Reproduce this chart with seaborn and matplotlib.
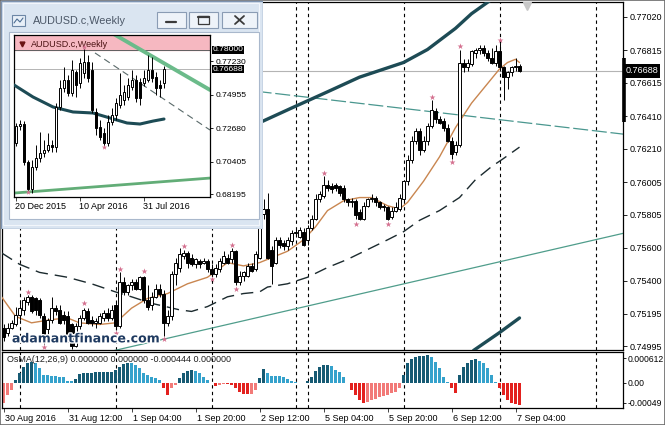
import numpy as np
import matplotlib
matplotlib.use("Agg")
import matplotlib.pyplot as plt
from matplotlib.patches import Rectangle
from matplotlib.transforms import blended_transform_factory as blend
import matplotlib.patheffects as pe
import seaborn as sns

# ---- AUDUSD.c H1 bars, index 0 = 30 Aug 2016 20:00 ----
opens = [0.7511, 0.7508, 0.7511, 0.7513, 0.7519, 0.7522, 0.7527, 0.7530, 0.7529, 0.7528,
         0.7518, 0.7510, 0.7516, 0.7523, 0.7522, 0.7519, 0.7518, 0.7513, 0.7500, 0.7512,
         0.7517, 0.7521, 0.7516, 0.7514, 0.7514, 0.7517, 0.7520, 0.7517, 0.7525, 0.7512,
         0.7539, 0.7533, 0.7537, 0.7539, 0.7535, 0.7542, 0.7528, 0.7525, 0.7530, 0.7535,
         0.7532, 0.7514, 0.7518, 0.7544, 0.7548, 0.7555, 0.7557, 0.7554, 0.7550, 0.7552,
         0.7551, 0.7552, 0.7547, 0.7544, 0.7547, 0.7551, 0.7554, 0.7553, 0.7558, 0.7539,
         0.7543, 0.7543, 0.7549, 0.7547, 0.7554, 0.7581, 0.7584, 0.7559, 0.7551, 0.7565,
         0.7563, 0.7561, 0.7564, 0.7569, 0.7567, 0.7570, 0.7565, 0.7572, 0.7578, 0.7590,
         0.7592, 0.7599, 0.7598, 0.7599, 0.7598, 0.7597, 0.7590, 0.7588, 0.7589, 0.7582,
         0.7578, 0.7586, 0.7590, 0.7591, 0.7588, 0.7586, 0.7585, 0.7579, 0.7583, 0.7584,
         0.7590, 0.7601, 0.7614, 0.7626, 0.7632, 0.7620, 0.7626, 0.7635, 0.7644, 0.7639,
         0.7638, 0.7634, 0.7626, 0.7619, 0.7623, 0.7674, 0.7671, 0.7673, 0.7680, 0.7682,
         0.7683, 0.7680, 0.7677, 0.7674, 0.7681, 0.7671, 0.7665, 0.7668, 0.7671, 0.7672]
highs = [0.7513, 0.7514, 0.7516, 0.7524, 0.7528, 0.7530, 0.7531, 0.7531, 0.7530, 0.7529,
         0.7520, 0.7517, 0.7530, 0.7525, 0.7525, 0.7521, 0.7521, 0.7514, 0.7514, 0.7519,
         0.7523, 0.7523, 0.7518, 0.7517, 0.7520, 0.7522, 0.7523, 0.7525, 0.7527, 0.7545,
         0.7542, 0.7538, 0.7541, 0.7541, 0.7543, 0.7543, 0.7537, 0.7533, 0.7538, 0.7538,
         0.7534, 0.7522, 0.7546, 0.7554, 0.7560, 0.7559, 0.7558, 0.7556, 0.7554, 0.7553,
         0.7554, 0.7553, 0.7550, 0.7550, 0.7554, 0.7558, 0.7556, 0.7560, 0.7559, 0.7546,
         0.7546, 0.7551, 0.7551, 0.7558, 0.7596, 0.7590, 0.7594, 0.7561, 0.7567, 0.7567,
         0.7565, 0.7567, 0.7571, 0.7572, 0.7573, 0.7572, 0.7574, 0.7580, 0.7593, 0.7595,
         0.7604, 0.7602, 0.7600, 0.7600, 0.7599, 0.7599, 0.7591, 0.7591, 0.7590, 0.7584,
         0.7588, 0.7591, 0.7593, 0.7592, 0.7589, 0.7587, 0.7586, 0.7585, 0.7588, 0.7593,
         0.7602, 0.7617, 0.7629, 0.7634, 0.7634, 0.7629, 0.7637, 0.7651, 0.7646, 0.7641,
         0.7640, 0.7636, 0.7628, 0.7626, 0.7682, 0.7676, 0.7676, 0.7682, 0.7683, 0.7685,
         0.7685, 0.7682, 0.7683, 0.7685, 0.7686, 0.7672, 0.7669, 0.7672, 0.7677, 0.7673]
lows = [0.7503, 0.7506, 0.7510, 0.7512, 0.7516, 0.7519, 0.7525, 0.7520, 0.7519, 0.7517,
        0.7501, 0.7507, 0.7514, 0.7519, 0.7513, 0.7513, 0.7502, 0.7498, 0.7499, 0.7510,
        0.7516, 0.7513, 0.7512, 0.7511, 0.7513, 0.7515, 0.7515, 0.7516, 0.7510, 0.7511,
        0.7531, 0.7531, 0.7534, 0.7534, 0.7534, 0.7526, 0.7522, 0.7522, 0.7529, 0.7530,
        0.7506, 0.7512, 0.7516, 0.7537, 0.7545, 0.7553, 0.7548, 0.7549, 0.7548, 0.7548,
        0.7550, 0.7545, 0.7543, 0.7542, 0.7545, 0.7550, 0.7550, 0.7551, 0.7537, 0.7537,
        0.7540, 0.7542, 0.7545, 0.7546, 0.7553, 0.7578, 0.7553, 0.7538, 0.7550, 0.7560,
        0.7559, 0.7559, 0.7562, 0.7567, 0.7566, 0.7561, 0.7562, 0.7571, 0.7577, 0.7588,
        0.7591, 0.7595, 0.7594, 0.7595, 0.7592, 0.7588, 0.7586, 0.7585, 0.7578, 0.7577,
        0.7577, 0.7585, 0.7588, 0.7586, 0.7584, 0.7583, 0.7577, 0.7578, 0.7582, 0.7583,
        0.7589, 0.7599, 0.7612, 0.7624, 0.7617, 0.7619, 0.7623, 0.7634, 0.7637, 0.7636,
        0.7632, 0.7625, 0.7615, 0.7617, 0.7622, 0.7668, 0.7669, 0.7672, 0.7677, 0.7679,
        0.7678, 0.7675, 0.7673, 0.7672, 0.7669, 0.7651, 0.7658, 0.7666, 0.7669, 0.7668]
closes = [0.7505, 0.7511, 0.7514, 0.7519, 0.7523, 0.7528, 0.7530, 0.7521, 0.7522, 0.7519,
          0.7502, 0.7516, 0.7523, 0.7521, 0.7514, 0.7516, 0.7505, 0.7500, 0.7512, 0.7517,
          0.7522, 0.7514, 0.7514, 0.7515, 0.7518, 0.7520, 0.7517, 0.7522, 0.7512, 0.7539,
          0.7533, 0.7537, 0.7539, 0.7535, 0.7542, 0.7528, 0.7524, 0.7530, 0.7535, 0.7532,
          0.7514, 0.7518, 0.7544, 0.7551, 0.7556, 0.7557, 0.7551, 0.7550, 0.7553, 0.7550,
          0.7552, 0.7547, 0.7544, 0.7548, 0.7552, 0.7555, 0.7551, 0.7558, 0.7539, 0.7543,
          0.7545, 0.7549, 0.7546, 0.7556, 0.7582, 0.7584, 0.7554, 0.7549, 0.7565, 0.7562,
          0.7561, 0.7565, 0.7569, 0.7570, 0.7571, 0.7562, 0.7572, 0.7578, 0.7590, 0.7593,
          0.7599, 0.7597, 0.7596, 0.7597, 0.7594, 0.7590, 0.7588, 0.7589, 0.7580, 0.7578,
          0.7586, 0.7590, 0.7591, 0.7588, 0.7585, 0.7585, 0.7578, 0.7583, 0.7585, 0.7591,
          0.7601, 0.7614, 0.7626, 0.7632, 0.7620, 0.7626, 0.7635, 0.7645, 0.7639, 0.7637,
          0.7634, 0.7626, 0.7618, 0.7623, 0.7674, 0.7671, 0.7674, 0.7681, 0.7682, 0.7683,
          0.7680, 0.7677, 0.7674, 0.7681, 0.7671, 0.7665, 0.7668, 0.7671, 0.7672, 0.76688]

# fractal markers
frac_up_idx = [6, 20, 29, 35, 45, 57, 80, 107, 114, 124]
frac_up_val = [0.7533, 0.7526, 0.7547, 0.7546, 0.7561, 0.7562, 0.7606, 0.7653, 0.7684, 0.7688]
frac_dn_idx = [10, 28, 40, 52, 58, 88, 96, 112]
frac_dn_val = [0.7499, 0.7508, 0.7504, 0.7541, 0.7535, 0.7575, 0.7575, 0.7613]

# moving averages / bands
fast_ma_idx = [-0.5, 3, 7, 12, 16, 19, 24, 28, 32, 36, 41, 46, 51, 56, 60, 64, 67, 71, 75, 78,
               81, 85, 89, 92, 96, 99, 101, 105, 109, 113, 117, 121, 124, 126, 128, 129]
fast_ma_val = [0.7530, 0.7518, 0.7514, 0.7516, 0.7517, 0.7514, 0.7513, 0.7514, 0.7523, 0.7529,
               0.7532, 0.7538, 0.7542, 0.7551, 0.7549, 0.7551, 0.7554, 0.7558, 0.7565, 0.7573,
               0.7583, 0.7589, 0.7591, 0.7591, 0.7586, 0.7584, 0.7588, 0.7601, 0.7616, 0.7634,
               0.7649, 0.7661, 0.7670, 0.7674, 0.7676, 0.7674]
slow_ma_idx = [-0.5, 4, 9, 16, 22, 28, 32, 37, 44, 47, 51, 56, 60, 64, 66, 71, 76, 81, 86, 91,
               96, 100, 104, 109, 114, 118, 122, 125, 129]
slow_ma_val = [0.7557, 0.7550, 0.7545, 0.7542, 0.7538, 0.7533, 0.7530, 0.7526, 0.7522, 0.7521,
               0.7524, 0.7530, 0.7532, 0.7533, 0.7536, 0.7538, 0.7542, 0.7548, 0.7553, 0.7559,
               0.7565, 0.7570, 0.7577, 0.7583, 0.7591, 0.7602, 0.7610, 0.7615, 0.7622]
band_upper_idx = [58, 64, 72, 81, 89, 100, 106, 113, 117, 121, 125]
band_upper_val = [0.7632, 0.7637, 0.7646, 0.7656, 0.7665, 0.7674, 0.7682, 0.7695, 0.7704, 0.7711, 0.7718]
band_lower_idx = [117.5, 124, 129]
band_lower_val = [0.7497, 0.7508, 0.7517]
trend_up_idx = [27.75, 154.9]
trend_up_val = [0.7497, 0.7569]
trend_dn_idx = [40, 154.9]
trend_dn_val = [0.7663, 0.7630]
last_price = 0.76688

# OsMA(12,26,9)
osma = [-0.00049, -0.00029, -0.00017, 0.00007, 0.00025, 0.00039, 0.00049, 0.00051, 0.00050, 0.00037,
        0.00020, 0.00019, 0.00018, 0.00017, 0.00015, 0.00014, 0.00006, 0.00005, 0.00010, 0.00022,
        0.00024, 0.00025, 0.00025, 0.00026, 0.00026, 0.00026, 0.00027, 0.00027, 0.00032, 0.00040,
        0.00046, 0.00049, 0.00048, 0.00044, 0.00036, 0.00024, 0.00020, 0.00015, 0.00012, 0.00007,
        -0.00012, -0.00029, -0.00012, -0.00004, 0.00012, 0.00024, 0.00030, 0.00032, 0.00030, 0.00024,
        0.00015, 0.00007, 0.00001, -0.00007, -0.00005, -0.00002, -0.00003, -0.00005, -0.00012, -0.00022,
        -0.00027, -0.00028, -0.00027, -0.00017, 0.00012, 0.00034, 0.00024, 0.00018, 0.00017, 0.00016,
        0.00014, 0.00011, 0.00006, 0.00003, 0.00001, -0.00001, 0.00006, 0.00015, 0.00029, 0.00039,
        0.00043, 0.00045, 0.00042, 0.00032, 0.00027, 0.00015, 0.00001, -0.00017, -0.00029, -0.00042,
        -0.00049, -0.00047, -0.00042, -0.00040, -0.00035, -0.00032, -0.00029, -0.00025, -0.00021, -0.00013,
        0.00020, 0.00048, 0.00060, 0.00064, 0.00066, 0.00067, 0.00068, 0.00064, 0.00052, 0.00037,
        0.00015, 0.00003, -0.00012, -0.00025, 0.00020, 0.00039, 0.00049, 0.00056, 0.00058, 0.00054,
        0.00048, 0.00037, 0.00020, 0.00003, -0.00012, -0.00029, -0.00042, -0.00049, -0.00051, -0.00053]

separators = [4, 28, 52, 73, 76, 100, 124, 148]
date_ticks = [0, 16, 32, 48, 64, 80, 96, 112, 128]
date_labels = ["30 Aug 2016", "31 Aug 12:00", "1 Sep 04:00", "1 Sep 20:00", "2 Sep 12:00",
               "5 Sep 04:00", "5 Sep 20:00", "6 Sep 12:00", "7 Sep 04:00"]
price_levels = [0.77020, 0.76815, 0.76615, 0.76410, 0.76210, 0.76005,
                0.75805, 0.75600, 0.75400, 0.75195, 0.74995]
osma_levels = [0.000612, 0.0, -0.00049]
osma_labels = ["0.000612", "0.00", "-0.00049"]

# ---- weekly inset, index 0 = 20 Dec 2015 ----
wk_open = [0.7167, 0.7282, 0.7296, 0.7037, 0.6853, 0.7003, 0.7065, 0.7099, 0.7119, 0.7153,
           0.7139, 0.7412, 0.7541, 0.7596, 0.7507, 0.7650, 0.7575, 0.7643, 0.7718, 0.7664,
           0.7378, 0.7276, 0.7235, 0.7167, 0.7310, 0.7357, 0.7425, 0.7460, 0.7480, 0.7548,
           0.7596, 0.7582, 0.7575, 0.7596, 0.7664, 0.7616, 0.7562, 0.7575]
wk_high = [0.7303, 0.7323, 0.7316, 0.7051, 0.7051, 0.7153, 0.7242, 0.7187, 0.7235, 0.7187,
           0.7439, 0.7596, 0.7684, 0.7630, 0.7732, 0.7664, 0.7746, 0.7807, 0.7766, 0.7718,
           0.7405, 0.7323, 0.7269, 0.7357, 0.7405, 0.7473, 0.7643, 0.7562, 0.7609, 0.7664,
           0.7630, 0.7609, 0.7664, 0.7766, 0.7752, 0.7650, 0.7596, 0.7691]
wk_low = [0.7146, 0.7255, 0.7017, 0.6840, 0.6826, 0.6983, 0.7037, 0.7071, 0.7105, 0.7105,
          0.7105, 0.7391, 0.7514, 0.7487, 0.7487, 0.7480, 0.7541, 0.7609, 0.7582, 0.7371,
          0.7221, 0.7187, 0.7146, 0.7146, 0.7289, 0.7323, 0.7405, 0.7425, 0.7460, 0.7528,
          0.7446, 0.7425, 0.7555, 0.7582, 0.7582, 0.7494, 0.7480, 0.7541]
wk_close = [0.7282, 0.7296, 0.7037, 0.6853, 0.7003, 0.7065, 0.7099, 0.7119, 0.7153, 0.7139,
            0.7412, 0.7541, 0.7596, 0.7507, 0.7664, 0.7562, 0.7711, 0.7718, 0.7609, 0.7391,
            0.7269, 0.7208, 0.7167, 0.7310, 0.7357, 0.7439, 0.7494, 0.7514, 0.7562, 0.7596,
            0.7473, 0.7473, 0.7609, 0.7664, 0.7609, 0.7541, 0.7541, 0.76688]
wk_frac_idx = [3, 17, 22]
wk_frac_val = [0.6833, 0.7822, 0.7138]
wk_ma_idx = [-0.5, 4.25, 9.25, 14.25, 19.25, 23.5, 27.75, 31, 34.25, 37]
wk_ma_val = [0.7562, 0.7480, 0.7412, 0.7378, 0.7371, 0.7337, 0.7303, 0.7296, 0.7316, 0.7330]
wk_support_idx = [-0.5, 48.5]
wk_support_val = [0.6826, 0.6928]
wk_resist_idx = [22, 48.5]
wk_resist_val = [0.7947, 0.7528]
wk_chan_idx = [19.75, 48.5]
wk_chan_val = [0.7780, 0.7255]
wk_levels = [0.77230, 0.74955, 0.72680, 0.70405, 0.68195]
wk_date_ticks = [0, 16, 32]
wk_date_labels = ["20 Dec 2015", "10 Apr 2016", "31 Jul 2016"]

sns.set_theme(style="white")
plt.rcParams['font.family'] = ['Liberation Sans', 'DejaVu Sans']

W, H = 665, 425
fig = plt.figure(figsize=(W / 100, H / 100), dpi=100)
fig.patch.set_facecolor("white")


def box(x0, y0, x1, y1):
    return [x0 / W, 1 - y1 / H, (x1 - x0) / W, (y1 - y0) / H]


def candles(axis, o, h, l, c, width, lw):
    o, h, l, c = map(np.asarray, (o, h, l, c))
    x = np.arange(len(o))
    up = c >= o
    axis.vlines(x, l, h, color="black", lw=lw, zorder=4)
    body = np.maximum(np.abs(c - o), 1e-5)
    axis.bar(x, body, bottom=np.minimum(o, c), width=width,
             color=np.where(up, "white", "black"), edgecolor="black",
             linewidth=lw, zorder=5)


def frame(axis):
    for s in axis.spines.values():
        s.set_color("black")
        s.set_linewidth(0.9)


FS = 6.5

# ---------------- main price pane ----------------
ax = fig.add_axes(box(2, 2, 623, 350))
ax.set_facecolor("white")
for s in separators:
    ax.axvline(s, color="black", ls=(0, (3, 3)), lw=0.8, zorder=1)
ax.axhline(last_price, color="#b4b4b4", lw=0.8, zorder=1)
sns.lineplot(x=trend_up_idx, y=trend_up_val, ax=ax, color="#4f9d8b", lw=0.9, zorder=2)
sns.lineplot(x=trend_dn_idx, y=trend_dn_val, ax=ax, color="#4a978f", lw=0.9,
             linestyle=(0, (12, 3)), zorder=2)
sns.lineplot(x=band_upper_idx, y=band_upper_val, ax=ax, color="#1d4b55", lw=2.4, zorder=3)
sns.lineplot(x=band_lower_idx, y=band_lower_val, ax=ax, color="#1d4b55", lw=2.4, zorder=3)
sns.lineplot(x=slow_ma_idx, y=slow_ma_val, ax=ax, color="#1b2a2e", lw=1.0,
             linestyle=(0, (9, 5)), zorder=3)
sns.lineplot(x=fast_ma_idx, y=fast_ma_val, ax=ax, color="#c98650", lw=1.0, zorder=3)
candles(ax, opens, highs, lows, closes, 0.62, 0.7)
ax.scatter(frac_up_idx, frac_up_val, marker="*", s=20, color="#d4708f", zorder=6, linewidths=0)
ax.scatter(frac_dn_idx, frac_dn_val, marker="*", s=20, color="#d4708f", zorder=6, linewidths=0)

ax.set_xlim(-0.375, 154.875)
ax.set_ylim(0.74973, 0.77112)
ax.set_xticks([])
ax.yaxis.tick_right()
ax.set_yticks(price_levels)
ax.set_yticklabels([f"{v:.5f}" for v in price_levels])
ax.tick_params(axis="y", right=True, direction="out", length=3, width=0.6,
               pad=2, labelsize=FS, colors="black")
ax.set_xlabel("")
ax.set_ylabel("")
frame(ax)

tr = blend(ax.transAxes, ax.transData)
ax.text(1.004, last_price, "0.76688", transform=tr, ha="left", va="center",
        fontsize=FS, color="white", zorder=10,
        bbox=dict(boxstyle="square,pad=0.25", fc="black", ec="none"))
ax.plot([155.2, 155.2], [0.76768, 0.76374], color="black", lw=2.6,
        clip_on=False, zorder=9, solid_capstyle="butt")
ax.plot([130.9], [0.77085], marker="v", ms=6, color="#c8c8c8", zorder=7)
ax.text(0.016, 0.032, "adamantfinance.com", transform=ax.transAxes,
        fontsize=9.0, fontweight="bold", family="DejaVu Sans", color="#1f3a60",
        va="center", ha="left", zorder=8,
        path_effects=[pe.withStroke(linewidth=2, foreground="white")])

# ---------------- OsMA pane ----------------
ax2 = fig.add_axes(box(2, 352, 623, 408))
ax2.set_facecolor("white")
vals = np.asarray(osma)
rising = np.r_[True, vals[1:] >= vals[:-1]]
cols = np.where(vals >= 0,
                np.where(rising, "#165a73", "#35a2cc"),
                np.where(rising, "#f27a78", "#e3211e"))
for s in separators:
    ax2.axvline(s, color="black", ls=(0, (3, 3)), lw=0.8, zorder=1)
ax2.bar(np.arange(len(vals)), vals, width=0.72, color=cols, linewidth=0, zorder=2)
ax2.set_xlim(-0.375, 154.875)
ax2.set_ylim(-0.000613, 0.00076)
ax2.yaxis.tick_right()
ax2.set_yticks(osma_levels)
ax2.set_yticklabels(osma_labels)
ax2.tick_params(axis="y", right=True, direction="out", length=2, width=0.6,
                pad=1.5, labelsize=6.2, colors="black")
ax2.set_xticks(date_ticks)
ax2.set_xticklabels([""] * len(date_ticks))
ax2.tick_params(axis="x", bottom=True, direction="out", length=3, width=0.6, pad=0)
frame(ax2)
ax2.text(0.008, 0.86, "OsMA(12,26,9) 0.000000 0.000000 -0.000444 0.000000",
         transform=ax2.transAxes, fontsize=FS, color="#202020", va="center", ha="left")
trx = blend(ax2.transData, ax2.transAxes)
for t, lab in zip(date_ticks, date_labels):
    ax2.text(t + 0.3, -0.18, lab, transform=trx, fontsize=FS, ha="left", va="center",
             color="black")

# ---------------- weekly window ----------------
win = fig.add_axes(box(0, 0, 263, 229), zorder=10)
win.set_xlim(0, 263)
win.set_ylim(229, 0)
win.axis("off")
win.add_patch(Rectangle((0.5, 0.5), 262, 228, facecolor="#dae5f1", edgecolor="#7d93b0", lw=1))
win.add_patch(Rectangle((3, 3), 256, 222, facecolor="none", edgecolor="#f2f6fb", lw=0.8))
win.add_patch(Rectangle((9, 32), 250, 187, facecolor="white", edgecolor="#a9b8cc", lw=0.8))
win.add_patch(Rectangle((12, 15), 13, 11, facecolor="#e8f0f8", edgecolor="#6d87a6", lw=0.8))
win.plot([14, 17, 20, 23], [23, 19, 22, 18], color="#4d6e93", lw=0.8)
win.text(33, 21, "AUDUSD.c,Weekly", fontsize=7.8, color="#4b5767", va="center", ha="left")
for x0, wdt in [(157, 29), (189, 29), (222, 35)]:
    win.add_patch(Rectangle((x0, 12), wdt, 16, facecolor="#eef3f9", edgecolor="#8a9cb4", lw=0.8))
win.plot([166, 176], [22, 22], color="#3a3a3a", lw=1.6)
win.add_patch(Rectangle((198, 16), 11, 8, facecolor="none", edgecolor="#3a3a3a", lw=0.9))
win.plot([198, 209], [16.8, 16.8], color="#3a3a3a", lw=1.6)
win.plot([235, 244], [16, 24], color="#3a3a3a", lw=1.3)
win.plot([235, 244], [24, 16], color="#3a3a3a", lw=1.3)

axi = fig.add_axes(box(14, 35, 210, 197), zorder=11)
axi.set_facecolor("white")
axi.axhspan(0.78, 0.7905, color="#f6b8c1", zorder=0)
axi.axhline(0.78, color="#606060", lw=0.7, zorder=1)
axi.axhline(last_price, color="#b4b4b4", lw=0.7, zorder=1)
sns.lineplot(x=wk_support_idx, y=wk_support_val, ax=axi, color="#62ad77", lw=2.0, zorder=2)
sns.lineplot(x=wk_resist_idx, y=wk_resist_val, ax=axi, color="#6bbb8a", lw=2.8, zorder=2)
sns.lineplot(x=wk_chan_idx, y=wk_chan_val, ax=axi, color="#5a6a6a", lw=0.8,
             linestyle=(0, (6, 4)), zorder=2)
sns.lineplot(x=wk_ma_idx, y=wk_ma_val, ax=axi, color="#1d4b55", lw=2.2, zorder=3)
candles(axi, wk_open, wk_high, wk_low, wk_close, 0.6, 0.7)
axi.scatter(wk_frac_idx, wk_frac_val, marker="*", s=16, color="#d4708f", zorder=6, linewidths=0)
axi.set_xlim(-0.5, 48.5)
axi.set_ylim(0.67991, 0.79021)
axi.set_xlabel("")
axi.set_ylabel("")
axi.yaxis.tick_right()
axi.set_yticks(wk_levels)
axi.set_yticklabels([f"{v:.5f}" for v in wk_levels])
axi.tick_params(axis="y", right=True, direction="out", length=2, width=0.6,
                pad=2, labelsize=6.1, colors="black")
axi.set_xticks(wk_date_ticks)
axi.set_xticklabels([""] * len(wk_date_ticks))
axi.tick_params(axis="x", bottom=True, direction="out", length=3, width=0.6, pad=0)
frame(axi)
tri = blend(axi.transAxes, axi.transData)
for v in (0.78, last_price):
    axi.text(1.012, v, f"{v:.5f}", transform=tri, ha="left", va="center", fontsize=6.1,
             color="white", zorder=10,
             bbox=dict(boxstyle="square,pad=0.08", fc="black", ec="none"))
axi.plot([0.041], [0.944], marker="v", ms=3.5, color="#6a1414",
         transform=axi.transAxes, clip_on=False)
axi.text(0.085, 0.944, "AUDUSD.c,Weekly", transform=axi.transAxes, fontsize=FS,
         color="#4a1212", va="center", ha="left")
trix = blend(axi.transData, axi.transAxes)
for t, lab in zip(wk_date_ticks, wk_date_labels):
    axi.text(t - 0.2, -0.058, lab, transform=trix, fontsize=FS, ha="left", va="center",
             color="black")

fig.add_artist(Rectangle((0, 0), 1, 1, transform=fig.transFigure, fill=False,
                         edgecolor="#6a6a6a", lw=1.2))

fig.savefig("out.png", dpi=100)
